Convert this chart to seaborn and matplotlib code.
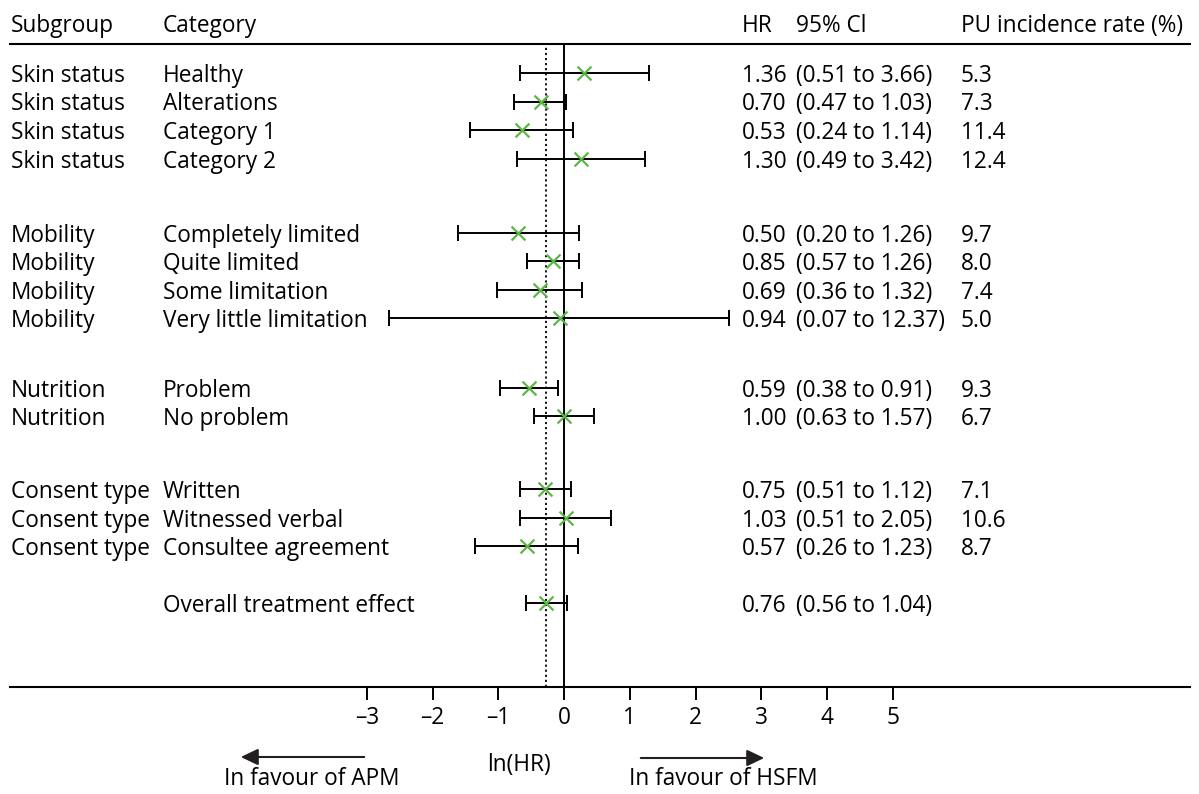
import numpy as np
import pandas as pd
import matplotlib
matplotlib.use("Agg")
import matplotlib.pyplot as plt
import matplotlib.transforms as mtransforms
import matplotlib.patches as mpatches
import seaborn as sns

# ---------------- data ----------------
subgroups = ["Skin status", "Skin status", "Skin status", "Skin status",
             "Mobility", "Mobility", "Mobility", "Mobility",
             "Nutrition", "Nutrition",
             "Consent type", "Consent type", "Consent type",
             ""]
categories = ["Healthy", "Alterations", "Category 1", "Category 2",
              "Completely limited", "Quite limited", "Some limitation", "Very little limitation",
              "Problem", "No problem",
              "Written", "Witnessed verbal", "Consultee agreement",
              "Overall treatment effect"]
hr = [1.36, 0.70, 0.53, 1.30,
      0.50, 0.85, 0.69, 0.94,
      0.59, 1.00,
      0.75, 1.03, 0.57,
      0.76]
ci_low = [0.51, 0.47, 0.24, 0.49,
          0.20, 0.57, 0.36, 0.07,
          0.38, 0.63,
          0.51, 0.51, 0.26,
          0.56]
ci_high = [3.66, 1.03, 1.14, 3.42,
           1.26, 1.26, 1.32, 12.37,
           0.91, 1.57,
           1.12, 2.05, 1.23,
           1.04]
pu_rate = ["5.3", "7.3", "11.4", "12.4",
           "9.7", "8.0", "7.4", "5.0",
           "9.3", "6.7",
           "7.1", "10.6", "8.7",
           ""]
group_sizes = [4, 4, 2, 3, 1]
group_gaps = [0.0, 2.6, 2.45, 2.55, 2.0]
x_ticks = [-3, -2, -1, 0, 1, 2, 3, 4, 5]

# ---------------- layout ----------------
rows = []
pos = 0.0
for gi, (n, gap) in enumerate(zip(group_sizes, group_gaps)):
    if gi > 0:
        pos += gap - 1
    for k in range(n):
        rows.append(pos)
        pos += 1
rows = np.array(rows)

df = pd.DataFrame({
    "subgroup": subgroups, "category": categories,
    "hr": hr, "lo": ci_low, "hi": ci_high, "pu": pu_rate, "row": rows,
})
df["lnhr"] = np.log(df["hr"])
df["lnlo"] = np.log(df["lo"])
df["lnhi"] = np.log(df["hi"])

sns.set_theme(style="white")
plt.rcParams["font.family"] = ["Open Sans", "DejaVu Sans"]
FS = 16.3

W, H = 1199, 794
fig = plt.figure(figsize=(W / 100, H / 100), dpi=100)
ax = fig.add_axes([10 / W, (H - 687) / H, 1180 / W, (687 - 44) / H])

px_per_unit = 65.75
x0px = 564
ax.set_xlim((10 - x0px) / px_per_unit, (1190 - x0px) / px_per_unit)
ax.set_ylim((687 - 73) / 28.5, (44 - 73) / 28.5)

# reference lines
overall_ln = df["lnhr"].iloc[-1]
ax.axvline(0, color="black", lw=1.4, zorder=1)
ax.axvline(overall_ln, color="black", lw=1.3, ls=(0, (1.2, 1.6)), zorder=1)

# CIs
ax.errorbar(df["lnhr"], df["row"],
            xerr=[df["lnhr"] - df["lnlo"], df["lnhi"] - df["lnhr"]],
            fmt="none", ecolor="black", elinewidth=1.4, capsize=5.8, capthick=1.4, zorder=2)
sns.scatterplot(data=df, x="lnhr", y="row", marker="x", s=100, color="#5DB548",
                linewidth=1.6, ax=ax, zorder=3, legend=False)

# axes styling
for side in ["left", "right"]:
    ax.spines[side].set_visible(False)
for side in ["top", "bottom"]:
    ax.spines[side].set_visible(True)
    ax.spines[side].set_color("black")
    ax.spines[side].set_linewidth(1.5)
ax.set_yticks([])
ax.set_xticks(x_ticks)
ax.set_xticklabels([("\u2013" + str(abs(t))) if t < 0 else str(t) for t in x_ticks])
ax.tick_params(axis="x", direction="out", length=9, width=1.4, color="black",
               labelsize=FS, pad=5, bottom=True, labelcolor="black")
ax.set_xlabel("")
ax.set_ylabel("")
ax.grid(False)

# text columns (x in figure fraction, y in data)
tr = mtransforms.blended_transform_factory(fig.transFigure, ax.transData)

def fx(px):
    return px / W

VA = "center_baseline"
for _, r in df.iterrows():
    ax.text(fx(11), r["row"], r["subgroup"], transform=tr, ha="left", va=VA, fontsize=FS, color="black")
    ax.text(fx(163), r["row"], r["category"], transform=tr, ha="left", va=VA, fontsize=FS, color="black")
    ax.text(fx(742), r["row"], f"{r['hr']:.2f}", transform=tr, ha="left", va=VA, fontsize=FS, color="black")
    ax.text(fx(796), r["row"], f"({r['lo']:.2f} to {r['hi']:.2f})", transform=tr, ha="left", va=VA,
            fontsize=FS, color="black")
    ax.text(fx(961), r["row"], r["pu"], transform=tr, ha="left", va=VA, fontsize=FS, color="black")

# header
hy = 1 - 23 / H
for px, label in [(11, "Subgroup"), (163, "Category"), (742, "HR"), (796, "95% Cl"), (961, "PU incidence rate (%)")]:
    fig.text(fx(px), hy, label, ha="left", va=VA, fontsize=FS, color="black")

# bottom annotations
fig.text(fx(519), 1 - 762 / H, "ln(HR)", ha="center", va=VA, fontsize=FS, color="black")
fig.text(fx(312), 1 - 779 / H, "In favour of APM", ha="center", va="center", fontsize=FS, color="black")
fig.text(fx(723), 1 - 779 / H, "In favour of HSFM", ha="center", va="center", fontsize=FS, color="black")
fig.add_artist(mpatches.FancyArrowPatch(
    (fx(367), 1 - 757 / H), (fx(238), 1 - 757 / H), transform=fig.transFigure,
    arrowstyle="-|>,head_length=10.5,head_width=5", mutation_scale=1, lw=1.5, color="#231F20"))
fig.add_artist(mpatches.FancyArrowPatch(
    (fx(638), 1 - 758 / H), (fx(767), 1 - 758 / H), transform=fig.transFigure,
    arrowstyle="-|>,head_length=10.5,head_width=5", mutation_scale=1, lw=1.5, color="#231F20"))

fig.savefig("out.png", dpi=100, facecolor="white")
